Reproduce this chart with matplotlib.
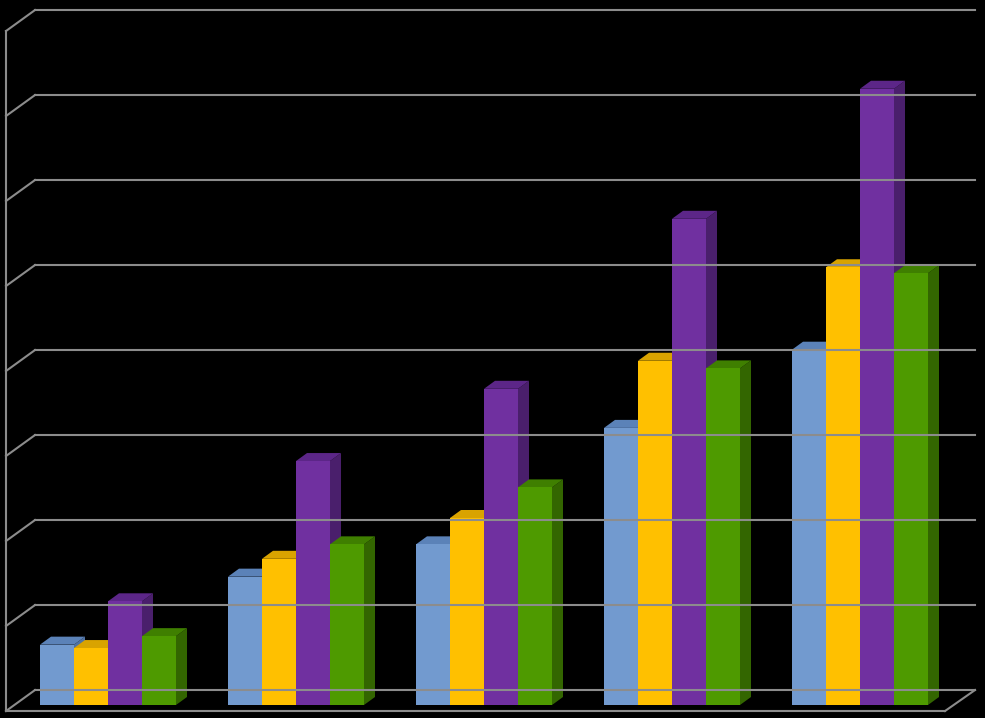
import matplotlib
matplotlib.use("Agg")
import matplotlib.pyplot as plt
from matplotlib.patches import Polygon

categories = ["1", "2", "3", "4", "5"]
series_names = ["A", "B", "C", "D"]
values = {
    "A": [0.71, 1.51, 1.89, 3.26, 4.18],
    "B": [0.67, 1.72, 2.20, 4.05, 5.15],
    "C": [1.22, 2.87, 3.72, 5.72, 7.25],
    "D": [0.81, 1.89, 2.56, 3.96, 5.08],
}
front = {"A": "#729acf", "B": "#ffc000", "C": "#7030a0", "D": "#4e9a00"}
top = {"A": "#5b82b8", "B": "#d9a300", "C": "#5c2688", "D": "#3f7f00"}
side = {"A": "#4f72a3", "B": "#b88900", "C": "#4a1f6c", "D": "#336600"}

W, H = 985, 718
fig = plt.figure(figsize=(W/100, H/100), dpi=100, facecolor="black")
ax = fig.add_axes([0, 0, 1, 1])
ax.set_facecolor("black")
ax.set_xlim(0, W)
ax.set_ylim((705-718)/85, 705/85)
ax.axis("off")

grid = "#8c8c8c"
# back wall gridlines
for k in range(9):
    yb = 0.176 + k
    yf = k - 0.071
    ax.plot([35, 975], [yb, yb], color=grid, lw=1.5)
    ax.plot([6, 35], [yf, yb], color=grid, lw=1.5)
ax.plot([6, 6], [-0.071, 8 - 0.071], color=grid, lw=1.5)
ax.plot([6, 945], [-0.071, -0.071], color=grid, lw=1.5)
ax.plot([945, 975], [-0.071, 0.176], color=grid, lw=1.5)

bw, gap, x0 = 34, 188, 40
dx, dy = 11, 8/85
for gi, _ in enumerate(categories):
    for si, s in enumerate(series_names):
        v = values[s][gi]
        xl = x0 + gap*gi + bw*si
        xr = xl + bw
        ax.add_patch(Polygon([(xr, 0), (xr+dx, dy), (xr+dx, v+dy), (xr, v)],
                             closed=True, fc=side[s], ec="none"))
        ax.add_patch(Polygon([(xl, v), (xl+dx, v+dy), (xr+dx, v+dy), (xr, v)],
                             closed=True, fc=top[s], ec="none"))
        ax.add_patch(Polygon([(xl, 0), (xr, 0), (xr, v), (xl, v)],
                             closed=True, fc=front[s], ec="none"))

fig.savefig("out.png", dpi=100, facecolor="black")
